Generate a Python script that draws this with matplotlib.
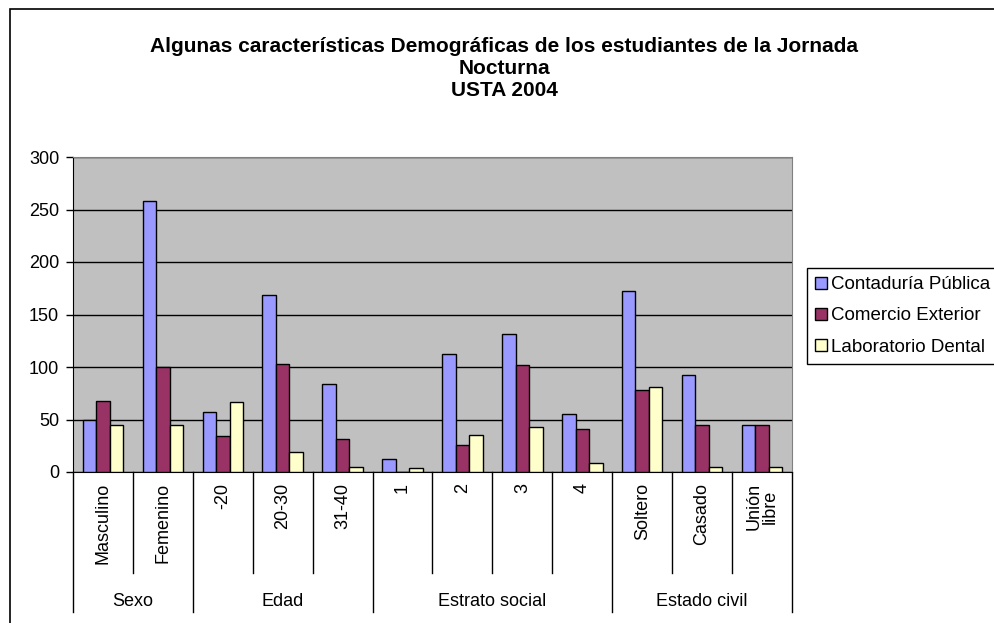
import numpy as np
import matplotlib.pyplot as plt
from matplotlib.patches import Rectangle
from matplotlib.transforms import blended_transform_factory

plt.rcParams['font.family'] = ['Liberation Sans', 'DejaVu Sans']

# datos
categorias = ["Masculino", "Femenino", "-20", "20-30", "31-40",
              "1", "2", "3", "4", "Soltero", "Casado", "Unión\nlibre"]
grupos = ["Sexo", "Edad", "Estrato social", "Estado civil"]
grupo_tam = [2, 3, 4, 3]

series = ["Contaduría Pública", "Comercio Exterior", "Laboratorio Dental"]
contaduria = [50, 258, 57, 169, 84, 12, 112, 131, 55, 172, 92, 45]
comercio = [68, 100, 34, 103, 31, 0, 26, 102, 41, 78, 45, 45]
laboratorio = [45, 45, 67, 19, 5, 4, 35, 43, 9, 81, 5, 5]
colores = ["#9999FF", "#993366", "#FFFFCC"]

fig = plt.figure(figsize=(9.95, 6.23), dpi=100)
ax = fig.add_axes([73/995, 1-472/623, (792-73)/995, (472-157)/623])
ax.set_facecolor("#C0C0C0")

x = np.arange(len(categorias))
w = 0.225
for i, (vals, nom) in enumerate(zip([contaduria, comercio, laboratorio], series)):
    ax.bar(x + (i-1)*w, vals, w, color=colores[i], edgecolor="black",
           linewidth=1, label=nom, zorder=3)

ax.set_xlim(-0.5, len(categorias)-0.5)
ax.set_ylim(0, 300)
ax.set_yticks(range(0, 301, 50))
ax.yaxis.grid(True, color="black", linewidth=1)
ax.set_axisbelow(True)
ax.tick_params(axis='y', labelsize=13, length=5, width=1, direction='out', pad=5)
ax.set_xticks([])
for s in ["top", "right"]:
    ax.spines[s].set_color("#808080")
ax.spines["left"].set_color("black")
ax.spines["bottom"].set_color("black")

# eje de categorias de dos niveles
tr = blended_transform_factory(ax.transData, ax.transAxes)
y_in = -101/315
y_out = -140/315
limites = np.cumsum([0] + grupo_tam) - 0.5
for b in np.arange(-0.5, len(categorias)):
    ybot = y_out if np.any(np.isclose(b, limites)) else y_in
    ax.plot([b, b], [0, ybot], color="black", lw=1, transform=tr, clip_on=False)
for xi, c in zip(x, categorias):
    ax.text(xi, -11/315, c, rotation=90, ha="center", va="top", fontsize=13,
            transform=tr, linespacing=0.9)
for j, g in enumerate(grupos):
    xc = (limites[j] + limites[j+1]) / 2
    ax.text(xc, -129/315, g, ha="center", va="center", fontsize=13, transform=tr)

fig.text(504/995, 1-68.5/623,
         "Algunas características Demográficas de los estudiantes de la Jornada\nNocturna\nUSTA 2004",
         ha="center", va="center", fontsize=15, fontweight="bold", linespacing=1.2)

fig.legend(loc="upper left", bbox_to_anchor=(807/995, 1-268/623), fontsize=13.5,
           frameon=True, fancybox=False, edgecolor="black", framealpha=1,
           handlelength=0.6, handleheight=0.6, handletextpad=0.25,
           borderpad=0.45, labelspacing=0.75, borderaxespad=0)

fig.patches.append(Rectangle((10/995, -0.02), 1.05, 1.02 - 9/623,
                             transform=fig.transFigure, fill=False,
                             edgecolor="black", linewidth=1.2))

fig.savefig("out.png", dpi=100)
